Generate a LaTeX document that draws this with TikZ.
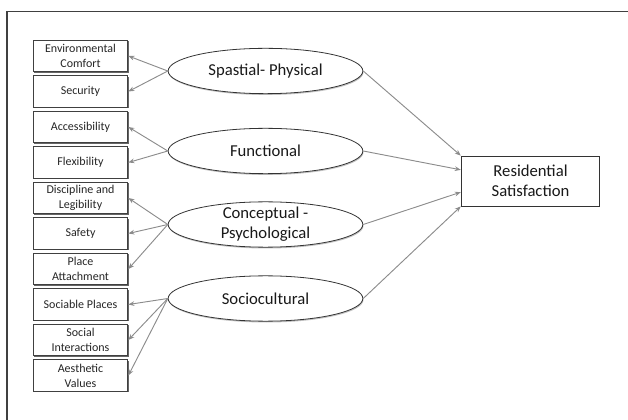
\documentclass[tikz,border=0pt]{standalone}
\usepackage{fontspec}
\setmainfont{Carlito}
\usetikzlibrary{arrows.meta,shapes.geometric,shadows,calc}

\tikzset{
  factor/.style={draw=black!75, line width=0.8pt, fill=white,
    minimum width=71pt, minimum height=23.5pt, inner sep=1pt, align=center,
    font=\fontsize{9}{11.25}\selectfont, text=black!85,
    drop shadow={shadow xshift=0.7pt, shadow yshift=-0.7pt, fill=black!60, opacity=1}},
  dimension/.style={ellipse, draw=black!80, line width=0.6pt, fill=white,
    minimum width=146pt, minimum height=34pt, inner xsep=0pt, inner ysep=-6pt,
    align=center, font=\fontsize{12.5}{15}\selectfont, text=black!90,
    drop shadow={shadow xshift=0.5pt, shadow yshift=-1pt, fill=black!40, opacity=0.6}},
  outcome/.style={draw=black!80, line width=0.6pt, fill=white,
    minimum width=104pt, minimum height=37.5pt, align=center,
    font=\fontsize{12.5}{15}\selectfont, text=black!90},
  link/.style={draw=black!45, line width=0.7pt, -{Stealth[length=4.5pt,width=3.5pt]}}
}

\begin{document}
\begin{tikzpicture}[x=0.75pt,y=-0.75pt]
  \useasboundingbox (0,0) rectangle (628,420);
  % frame
  \draw[black!75, line width=0.9pt] (628,11.5) -- (7,11.5) -- (7,420);

  % indicators
  \draw
    (80.5,56) node[factor] (ec){Environmental\\Comfort}
    (80.5,91.5) node[factor] (se){Security}
    (80.5,127) node[factor] (ac){Accessibility}
    (80.5,162.5) node[factor] (fl){Flexibility}
    (80.5,198) node[factor] (dl){Discipline and\\Legibility}
    (80.5,233.5) node[factor] (sa){Safety}
    (80.5,269) node[factor] (pa){Place\\Attachment}
    (80.5,304.5) node[factor] (sp){Sociable Places}
    (80.5,340) node[factor] (si){Social\\Interactions}
    (80.5,375.5) node[factor] (av){Aesthetic\\Values};

  % dimensions
  \draw
    (265.5,71) node[dimension] (phys){Spastial- Physical}
    (265.5,151) node[dimension] (func){Functional}
    (265.5,224.5) node[dimension] (conc){Conceptual -\\Psychological}
    (265.5,298.5) node[dimension] (soc){Sociocultural};

  \draw (530.5,181) node[outcome] (rs){Residential\\Satisfaction};

  \begin{scope}[link]
    \draw (phys.west) to (ec.east);
    \draw (phys.west) to (se.east);
    \draw (func.west) to (ac.east);
    \draw (func.west) to (fl.east);
    \draw (conc.west) to (dl.east);
    \draw (conc.west) to (sa.east);
    \draw (conc.west) to (pa.east);
    \draw (soc.west) to (sp.east);
    \draw (soc.west) to (si.east);
    \draw (soc.west) to (av.east);
    \draw (phys.east) to (rs.north west);
    \draw (func.east) to ($(rs.north west)!0.28!(rs.south west)$);
    \draw (conc.east) to ($(rs.north west)!0.72!(rs.south west)$);
    \draw (soc.east) to (rs.south west);
  \end{scope}
\end{tikzpicture}
\end{document}
